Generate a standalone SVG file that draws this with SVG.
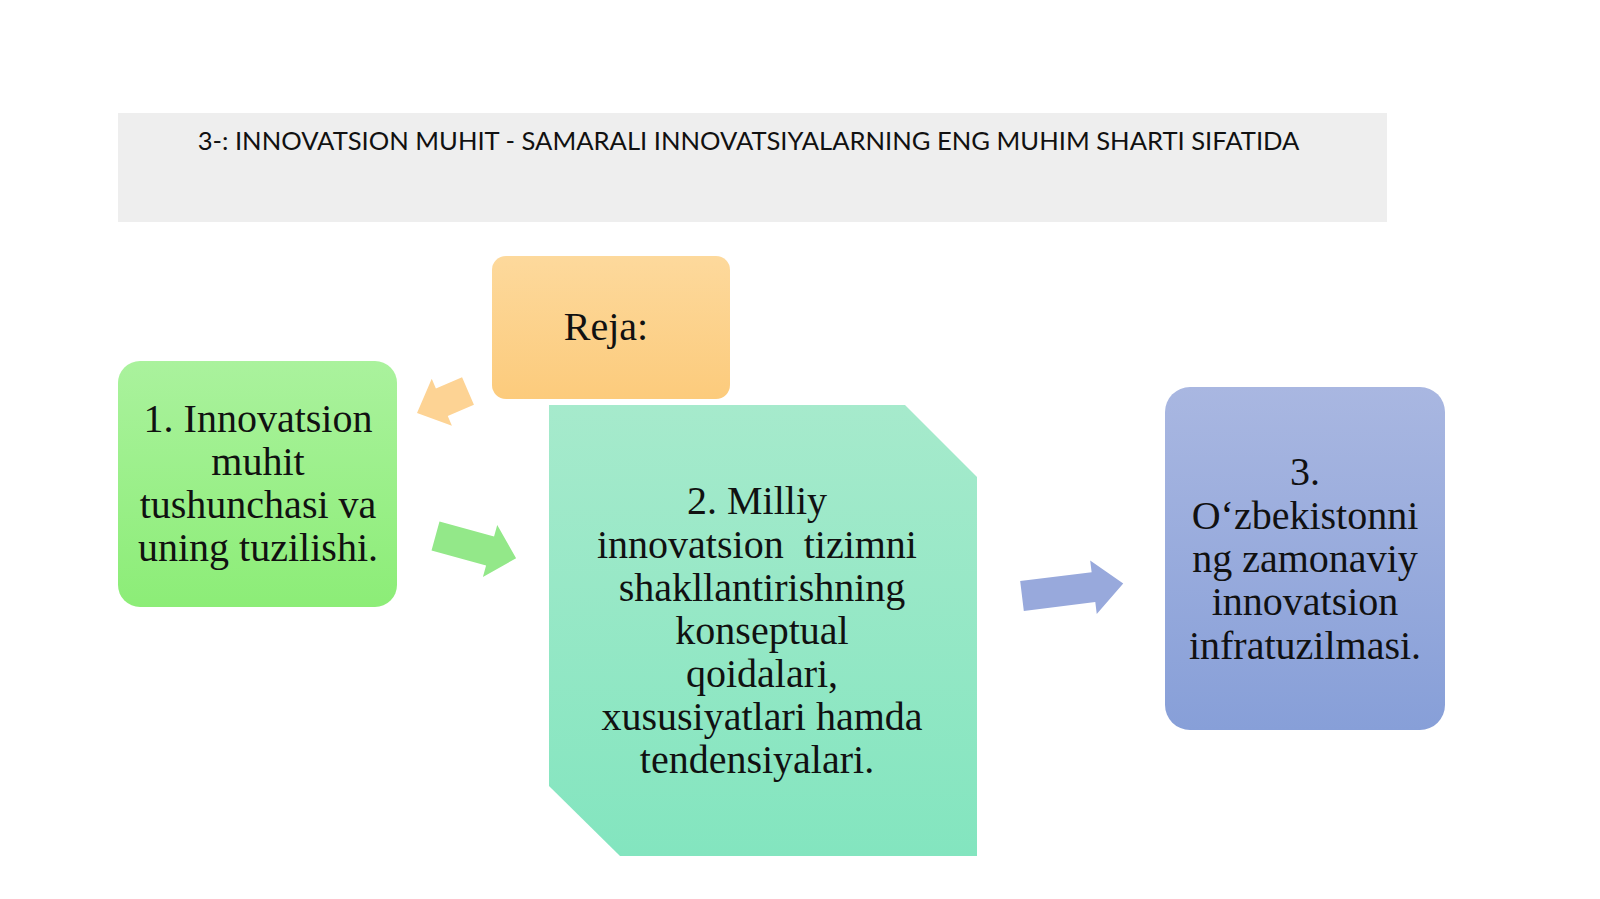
<svg xmlns="http://www.w3.org/2000/svg" width="1600" height="899" viewBox="0 0 1600 899">
  <defs>
    <linearGradient id="gOrange" x1="0" y1="0" x2="0" y2="1">
      <stop offset="0" stop-color="#fdd99c"/>
      <stop offset="1" stop-color="#fccb7c"/>
    </linearGradient>
    <linearGradient id="gGreen" x1="0" y1="0" x2="0" y2="1">
      <stop offset="0" stop-color="#aaf29d"/>
      <stop offset="1" stop-color="#8ced77"/>
    </linearGradient>
    <linearGradient id="gTeal" x1="0" y1="0" x2="0" y2="1">
      <stop offset="0" stop-color="#a6eacc"/>
      <stop offset="1" stop-color="#83e5bf"/>
    </linearGradient>
    <linearGradient id="gBlue" x1="0" y1="0" x2="0" y2="1">
      <stop offset="0" stop-color="#a9b7e1"/>
      <stop offset="1" stop-color="#879fd8"/>
    </linearGradient>
  </defs>
  <style>
    .lbl { font-family: "Liberation Serif", "Times New Roman", serif; font-size: 40px; fill: #111111; text-anchor: middle; }
    .title { font-family: Lato, "Open Sans", sans-serif; font-size: 25.6px; fill: #111111; text-anchor: middle; }
  </style>
  <rect width="1600" height="899" fill="#ffffff"/>

  <g id="title">
    <rect x="118" y="113" width="1269" height="109" fill="#eeeeee"/>
    <text class="title" x="748.5" y="150">3-: INNOVATSION MUHIT - SAMARALI INNOVATSIYALARNING ENG MUHIM SHARTI SIFATIDA</text>
  </g>

  <g id="reja">
    <rect x="492" y="256" width="238" height="143" rx="14" fill="url(#gOrange)"/>
    <text class="lbl" x="606" y="340">Reja:</text>
  </g>

  <g id="node1">
    <rect x="118" y="361" width="279" height="246" rx="22" fill="url(#gGreen)"/>
    <text class="lbl" x="258" y="432">1. Innovatsion</text>
    <text class="lbl" x="258" y="475">muhit</text>
    <text class="lbl" x="258" y="518">tushunchasi va</text>
    <text class="lbl" x="258" y="561">uning tuzilishi.</text>
  </g>

  <g id="node2">
    <polygon points="549,405 905,405 977,477 977,856 620,856 549,786" fill="url(#gTeal)"/>
    <text class="lbl" x="757" y="514">2. Milliy</text>
    <text class="lbl" x="757" y="558" xml:space="preserve">innovatsion  tizimni</text>
    <text class="lbl" x="762" y="601">shakllantirishning</text>
    <text class="lbl" x="762" y="644">konseptual</text>
    <text class="lbl" x="762" y="687">qoidalari,</text>
    <text class="lbl" x="762" y="730">xususiyatlari hamda</text>
    <text class="lbl" x="757" y="773">tendensiyalari.</text>
  </g>

  <g id="node3">
    <rect x="1165" y="387" width="280" height="343" rx="25" fill="url(#gBlue)"/>
    <text class="lbl" x="1305" y="485">3.</text>
    <text class="lbl" x="1305" y="529">O‘zbekistonni</text>
    <text class="lbl" x="1305" y="572">ng zamonaviy</text>
    <text class="lbl" x="1305" y="615">innovatsion</text>
    <text class="lbl" x="1305" y="659">infratuzilmasi.</text>
  </g>

  <g id="connectors">
    <polygon transform="translate(468,391) rotate(156.7)" points="0,-15 28.5,-15 28.5,-25.5 55.5,0 28.5,25.5 28.5,15 0,15" fill="#fdd394"/>
    <polygon transform="translate(435.5,536) rotate(15.4)" points="0,-15 56.6,-15 56.6,-27 83.6,0 56.6,27 56.6,15 0,15" fill="#93e889"/>
    <polygon transform="translate(1022,596) rotate(-7)" points="0,-15 72,-15 72,-27 102,0 72,27 72,15 0,15" fill="#98a9dc"/>
  </g>
</svg>
